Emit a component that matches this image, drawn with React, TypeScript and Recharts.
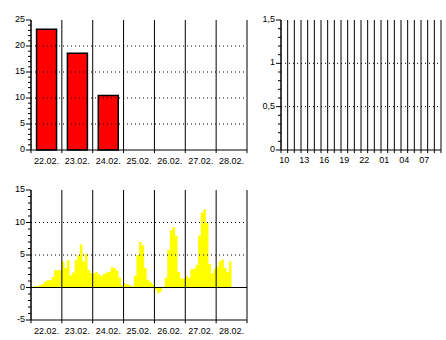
import React from 'react';
import { BarChart, Bar, AreaChart, Area, XAxis, YAxis, ReferenceLine } from 'recharts';

const FONT = 'Liberation Sans, Arial, sans-serif';

// daily totals (top left)
const days = ['22.02.', '23.02.', '24.02.', '25.02.', '26.02.', '27.02.', '28.02.'];
const dailyTotals = [23.2, 18.6, 10.5, null, null, null, null];

// hourly values (top right), all zero
const hours = ['10', '11', '12', '13', '14', '15', '16', '17', '18', '19', '20', '21', '22', '23', '00', '01', '02', '03', '04', '05', '06', '07', '08', '09'];
const hourlyValues = [0, 0, 0, 0, 0, 0, 0, 0, 0, 0, 0, 0, 0, 0, 0, 0, 0, 0, 0, 0, 0, 0, 0, 0];

// 2-hour values per day (bottom)
const trend22 = [0.1, 0.2, 0.2, 0.4, 0.5, 0.9, 1.1, 1.1, 1.6, 2.7, 2.6, 2.7];
const trend23 = [4.0, 3.0, 4.2, 1.9, 2.3, 4.2, 5.0, 6.6, 4.0, 5.2, 2.7, 2.2];
const trend24 = [2.2, 2.4, 2.0, 1.8, 2.1, 2.3, 2.4, 3.1, 3.0, 2.6, 1.5, 0.4];
const trend25 = [0.6, 0.5, 0.4, 0.2, 1.8, 5.0, 7.0, 6.5, 3.0, 1.2, 0.8, 0.5];
const trend26 = [-0.4, -0.9, -0.6, 0.1, 1.5, 5.8, 8.8, 9.3, 8.0, 2.4, 1.4, 1.4];
const trend27 = [1.8, 1.5, 2.8, 2.9, 3.5, 8.0, 11.5, 12.0, 10.0, 3.6, 2.2, 2.9];
const trend28 = [3.2, 4.0, 4.3, 3.0, 2.4, 4.0];

const dailyData = days.map((day, i) => ({ day, value: dailyTotals[i] }));
const hourlyData = hours.map((hour, i) => ({ hour, value: hourlyValues[i] }));

const trendValues = [...trend22, ...trend23, ...trend24, ...trend25, ...trend26, ...trend27, ...trend28];
const trendData = trendValues.map((v, i) => ({ t: i / 12, v }));
// close the last step
trendData.push({ t: trendValues.length / 12, v: trendValues[trendValues.length - 1] });

const dayCenters = days.map((_, i) => i + 0.5);
const dayBounds = [0, 1, 2, 3, 4, 5, 6, 7];

const range = (from: number, to: number, step: number) => {
  const out: number[] = [];
  const n = Math.round((to - from) / step);
  for (let i = 0; i <= n; i++) out.push(Math.round((from + i * step) * 1000) / 1000);
  return out;
};

const comma = (v: number) => String(v).replace('.', ',');

const YTick = (props: any) => {
  const { x, y, payload, step, fmt } = props;
  const v = payload.value;
  const major = Math.abs(v / step - Math.round(v / step)) < 1e-6;
  return (
    <g>
      <line x1={x - (major ? 5 : 3)} x2={x} y1={y} y2={y} stroke="#000" />
      {major && (
        <text x={x - 6} y={y} dy={2} textAnchor="end" fontSize={9} fontFamily={FONT} fill="#000">
          {fmt ? fmt(v) : v}
        </text>
      )}
    </g>
  );
};

const tickStyle = { fill: '#000', fontSize: 9, fontFamily: FONT };
const axisStyle = { stroke: '#000', strokeWidth: 1 };
const dotted = { stroke: '#000', strokeDasharray: '1 3', strokeWidth: 1 };

export default function App() {
  return (
    <div style={{ position: 'absolute', left: 0, top: 0, width: 446, height: 340, background: '#fff' }}>
      <div style={{ position: 'absolute', left: 0, top: 0 }}>
        <BarChart width={250} height={170} data={dailyData} margin={{ top: 20, right: 3, bottom: 0, left: 0 }} barCategoryGap="18%">
          {[5, 10, 15, 20].map(v => <ReferenceLine key={v} y={v} {...dotted} />)}
          {days.map(d => (
            <ReferenceLine key={d} segment={[{ x: d, y: -0.6 }, { x: d, y: 25 }]} position="start" ifOverflow="visible" stroke="#000" />
          ))}
          <ReferenceLine segment={[{ x: days[6], y: -0.6 }, { x: days[6], y: 25 }]} position="end" ifOverflow="visible" stroke="#000" />
          <XAxis dataKey="day" axisLine={axisStyle} tickLine={false} tickSize={0} tickMargin={8} height={20} tick={tickStyle} interval={0} />
          <YAxis width={31} type="number" domain={[0, 25]} ticks={range(0, 25, 1)} interval={0} axisLine={axisStyle} tickLine={false} tickSize={0} tickMargin={0} tick={(p: any) => <YTick {...p} step={5} />} />
          <Bar dataKey="value" fill="#ff0000" stroke="#000" strokeWidth={1.5} isAnimationActive={false} />
        </BarChart>
      </div>

      <div style={{ position: 'absolute', left: 250, top: 0 }}>
        <BarChart width={196} height={170} data={hourlyData} margin={{ top: 20, right: 5, bottom: 0, left: 0 }}>
          {[0.5, 1].map(v => <ReferenceLine key={v} y={v} {...dotted} />)}
          {hours.map(h => (
            <ReferenceLine key={h} segment={[{ x: h, y: -0.035 }, { x: h, y: 1.5 }]} position="start" ifOverflow="visible" stroke="#000" />
          ))}
          <ReferenceLine segment={[{ x: hours[23], y: -0.035 }, { x: hours[23], y: 1.5 }]} position="end" ifOverflow="visible" stroke="#000" />
          <XAxis dataKey="hour" axisLine={axisStyle} tickLine={false} tickSize={0} tickMargin={7} height={20} tick={tickStyle} interval={2} />
          <YAxis width={31} type="number" domain={[0, 1.5]} ticks={range(0, 1.5, 0.1)} interval={0} axisLine={axisStyle} tickLine={false} tickSize={0} tickMargin={0} tick={(p: any) => <YTick {...p} step={0.5} fmt={comma} />} />
          <Bar dataKey="value" fill="#ff0000" stroke="#000" isAnimationActive={false} />
        </BarChart>
      </div>

      <div style={{ position: 'absolute', left: 0, top: 170 }}>
        <AreaChart width={250} height={170} data={trendData} margin={{ top: 20, right: 3, bottom: 0, left: 0 }}>
          <Area type="stepAfter" dataKey="v" baseValue={0} fill="#ffff00" fillOpacity={1} stroke="none" isAnimationActive={false} />
          {[5, 10].map(v => <ReferenceLine key={v} y={v} {...dotted} />)}
          <ReferenceLine y={0} stroke="#000" />
          {dayBounds.map(b => (
            <ReferenceLine key={b} segment={[{ x: b, y: -5.5 }, { x: b, y: 15 }]} ifOverflow="visible" stroke="#000" />
          ))}
          <XAxis dataKey="t" type="number" domain={[0, 7]} ticks={dayCenters} interval={0} tickFormatter={(v: number) => days[Math.floor(v)]} axisLine={axisStyle} tickLine={false} tickSize={0} tickMargin={8} height={20} tick={tickStyle} />
          <YAxis width={31} type="number" domain={[-5, 15]} ticks={range(-5, 15, 1)} interval={0} axisLine={axisStyle} tickLine={false} tickSize={0} tickMargin={0} tick={(p: any) => <YTick {...p} step={5} />} />
        </AreaChart>
      </div>
    </div>
  );
}
